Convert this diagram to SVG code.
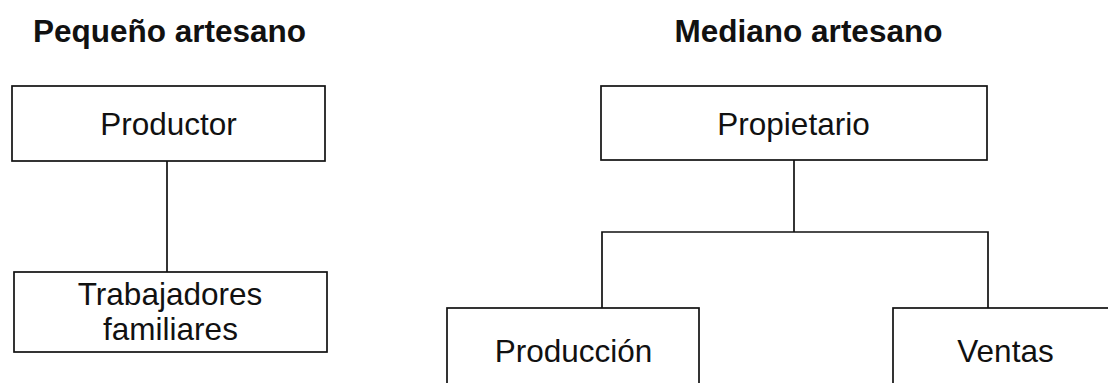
<svg xmlns="http://www.w3.org/2000/svg" width="1108" height="383" viewBox="0 0 1108 383">
  <style>
    .box { fill: #ffffff; stroke: #111111; stroke-width: 1.7; }
    .link { fill: none; stroke: #111111; stroke-width: 1.7; }
    .label { font-family: "Liberation Sans", Arial, sans-serif; font-size: 31.5px; fill: #111111; text-anchor: middle; }
    .title { font-family: "Liberation Sans", Arial, sans-serif; font-size: 31.5px; font-weight: bold; fill: #111111; text-anchor: middle; }
  </style>
  <rect x="0" y="0" width="1108" height="383" fill="#ffffff"/>

  <!-- section headings -->
  <text class="title" x="169.5" y="42">Pequeño artesano</text>
  <text class="title" x="808.5" y="42">Mediano artesano</text>

  <!-- connectors -->
  <g id="connectors">
    <line class="link" x1="167" y1="161" x2="167" y2="272"/>
    <line class="link" x1="794" y1="160" x2="794" y2="232"/>
    <polyline class="link" points="602,308 602,232 988,232 988,308"/>
  </g>

  <!-- small workshop -->
  <g id="productor">
    <rect class="box" x="12" y="86" width="313" height="75"/>
    <text class="label" x="168.5" y="135">Productor</text>
  </g>
  <g id="trabajadores">
    <rect class="box" x="14" y="272" width="313" height="80"/>
    <text class="label" x="170" y="305">Trabajadores</text>
    <text class="label" x="170.5" y="340">familiares</text>
  </g>

  <!-- medium workshop -->
  <g id="propietario">
    <rect class="box" x="601" y="86" width="386" height="74"/>
    <text class="label" x="793.5" y="135">Propietario</text>
  </g>
  <g id="produccion">
    <rect class="box" x="447" y="308" width="252" height="100"/>
    <text class="label" x="573.5" y="362">Producción</text>
  </g>
  <g id="ventas">
    <rect class="box" x="893" y="308" width="240" height="100"/>
    <text class="label" x="1005.5" y="362">Ventas</text>
  </g>
</svg>
